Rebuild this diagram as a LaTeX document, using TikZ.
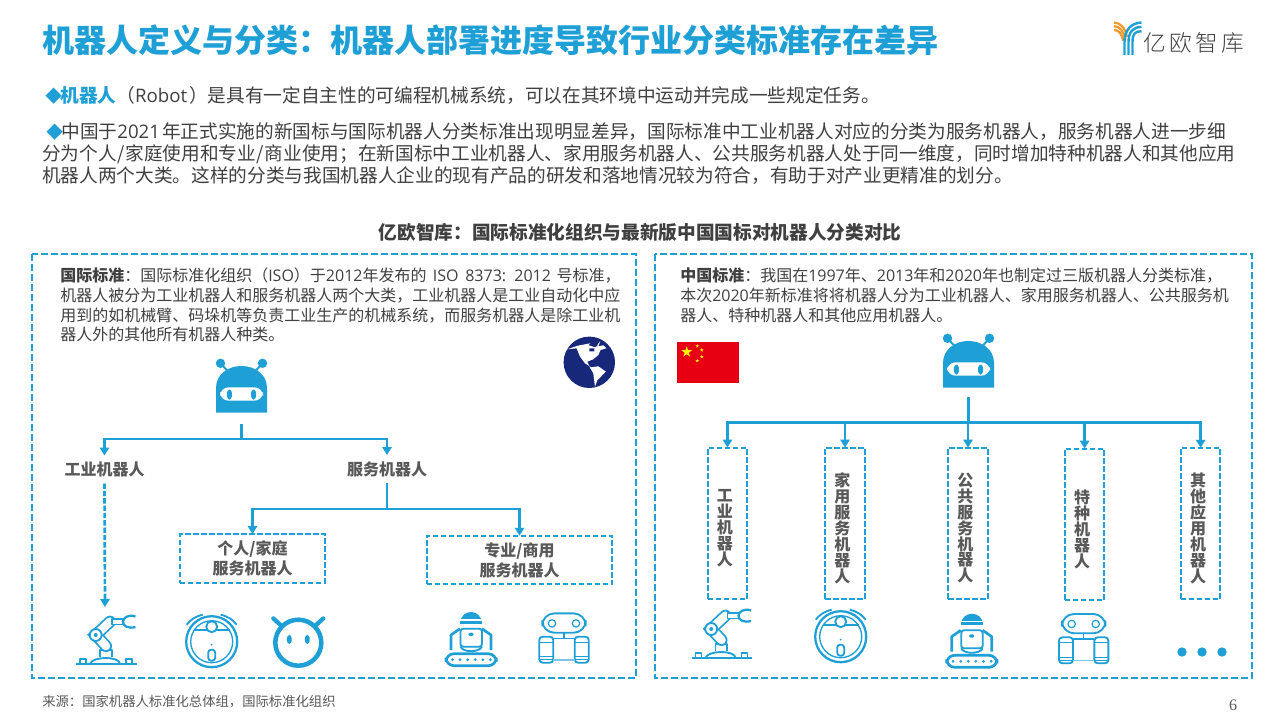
\documentclass[tikz,border=0pt]{standalone}
\usepackage{fontspec}
\setmainfont{Noto Sans CJK SC}
\newfontfamily\la{Open Sans}
\newfontfamily\serifnum{Liberation Serif}
\newfontfamily\thin{Noto Sans CJK SC Light}
\usepackage{xcolor}
\usetikzlibrary{arrows.meta,positioning,shapes.geometric}
\definecolor{ioblue}{HTML}{1E9FD5}
\definecolor{iotext}{HTML}{404040}
\definecolor{iolabel}{HTML}{595959}
\definecolor{ioorange}{HTML}{F39A2E}
\definecolor{ionavy}{HTML}{17287A}
\definecolor{iored}{HTML}{E60012}
\newcommand{\lat}[1]{{\la #1}}
\newcommand{\bul}{\textcolor{ioblue}{\fontsize{12.5}{12}\selectfont ◆}\hspace{-1.2pt}}
\newcommand{\fco}{\char"FF1A\relax}
\newcommand{\fcm}{\char"FF0C\relax}
\newcommand{\fsc}{\char"FF1B\relax}
\newcommand{\flp}{\char"FF08\relax}
\newcommand{\frp}{\char"FF09\relax}
\begin{document}
\begin{tikzpicture}[
  x=0.75pt, y=-0.75pt,
  panel/.style={draw=ioblue, line width=1.5pt, dash pattern=on 5pt off 2.5pt},
  hbox/.style={draw=ioblue, line width=1.4pt, dash pattern=on 4pt off 2pt, align=center,
              font=\fontsize{12}{15}\selectfont\bfseries, text=iolabel, outer sep=0pt},
  vbox/.style={draw=ioblue, line width=1.4pt, dash pattern=on 4pt off 2pt,
              minimum width=29.6pt, minimum height=113.6pt, inner sep=0pt, outer sep=0pt},
  vlbl/.style={align=center, inner sep=0pt, xshift=-1.9pt, yshift=-3.7pt,
              font=\fontsize{12}{11.9}\selectfont\bfseries, text=iolabel},
  lbl/.style={font=\fontsize{12}{15}\selectfont\bfseries, text=iolabel, minimum height=21pt,
              inner sep=0pt, outer sep=0pt},
  para/.style={anchor=north west, align=left, inner sep=0pt, text=iotext,
              font=\fontsize{14}{16.5}\selectfont},
  small/.style={anchor=north west, align=left, inner sep=0pt, text=iotext,
              font=\fontsize{12}{14.7}\selectfont},
  trunk/.style={draw=ioblue, line width=2pt},
  arr/.style={draw=ioblue, line width=2pt, -{Triangle[length=6pt,width=7pt]}},
  darr/.style={arr, dash pattern=on 4pt off 1.5pt},
  ic/.style={draw=ioblue, line width=1.4pt, line join=round},
  pics/robothead/.style={code={
    \fill[ioblue] (-25.5,22.7) -- (-25.5,-2) .. controls (-25.5,-16) and (-13,-24) .. (0,-24)
      .. controls (13,-24) and (25.5,-16) .. (25.5,-2) -- (25.5,22.7) -- cycle;
    \draw[ioblue, line width=1.5pt] (-21,-26.7) -- (-14,-19) (21,-26.7) -- (14,-19);
    \fill[ioblue] (-21,-26.7) circle (4.7) (21,-26.7) circle (4.7);
    \fill[white, rounded corners=6.5] (-21.5,-2.7) rectangle (21.5,10.7);
    \fill[ioblue, rounded corners=2.4] (-14.6,-0.5) rectangle (-9.6,9.5) (9.6,-0.5) rectangle (14.6,9.5);
  }},
  pics/armicon/.style={code={
    \draw[ic] (-30,-2) -- (30.7,-2);
    \draw[ic] (-26,-2) rectangle (-20,-7) (20,-2) rectangle (26,-7);
    \draw[ic] (-16,-2) .. controls (-14,-10) and (14,-10) .. (14,-2);
    \draw[ic] (-6,-9.5) -- (-6,-16) -- (5.7,-16) -- (5.7,-9.5);
    \draw[ioblue, line width=9pt, line cap=round] (0,-20) -- (-10.3,-31) -- (4,-44.3);
    \draw[white, line width=6.4pt, line cap=round] (0,-20) -- (-10.3,-31) -- (4,-44.3);
    \draw[ic, fill=white] (-10.3,-31) circle (6);
    \fill[ioblue] (-10.3,-31) circle (2);
    \draw[ic, fill=white] (6,-47) rectangle (17,-41.5);
    \draw[ic, line width=1.7pt] (29.5,-49.5) .. controls (22,-52) and (17,-48) .. (17,-44.3) .. controls (17,-40) and (22,-37) .. (29.5,-39);
  }},
  pics/vacicon/.style={code={
    \draw[ioblue, line width=1.7pt] (0,0) circle (25.5);
    \draw[ioblue, line width=1pt] (0,0) circle (21);
    \draw[ic] (-18,-11.7) -- (18,-11.7);
    \draw[ic, fill=white] (0,-15) circle (5.5);
    \draw[ic] (-25,-17) .. controls (-21,-22) and (-17,-25) .. (-9,-27) (25,-17) .. controls (21,-22) and (17,-25) .. (9,-27);
    \fill[ioblue] (0,3) circle (1);
    \draw[ic, rounded corners=2.2] (-3.5,8) rectangle (3.5,19);
  }},
  pics/faceicon/.style={code={
    \draw[ioblue, line width=3.4pt] (0,0) circle (23);
    \draw[ioblue, line width=3.2pt, line cap=round] (-25,-24.3) -- (-17,-17) (25,-24.3) -- (17,-17);
    \fill[ioblue, rounded corners=2.3] (-11.4,-7.8) rectangle (-6.6,1.2) (6.6,-7.8) rectangle (11.4,1.2);
  }},
  pics/trackicon/.style={code={
    \draw[ioblue, line width=2pt, rounded corners=6] (-25,-13) rectangle (25.3,-1);
    \foreach \dx in {-18.7,-11,-3.4,4.2,11.8,19.4} {\fill[ioblue] (\dx,-7) circle (1.5);}
    \draw[ic, rounded corners=2] (-10.5,-38) rectangle (11,-20);
    \draw[ic] (-10.5,-20) .. controls (-8,-14) and (8,-14) .. (11,-20);
    \fill[ioblue] (-11,-43) .. controls (-11,-58.5) and (11,-58.5) .. (11,-43) -- cycle;
    \fill[white] (-12,-47.5) rectangle (12,-46);
    \draw[ic, line width=2pt] (-11,-38) -- (-20,-31.7) -- (-20,-16.7) (11,-38) -- (20,-31.7) -- (20,-16.7);
    \fill[ioblue, rounded corners=1.5] (-2.6,-34) rectangle (2.6,-30.6);
  }},
  pics/wheelicon/.style={code={
    \draw[ic, rounded corners=9] (-21.7,-49.3) rectangle (21.7,-30);
    \draw[ioblue, line width=.9pt] (-12,-39.3) circle (3.7) (12,-39.3) circle (3.7);
    \draw[ioblue, line width=.9pt] (0,-30) -- (0,-24.3) (-10.7,-24.3) -- (10.7,-24.3);
    \draw[ic, rounded corners=2.5] (-24.7,-26) rectangle (-10.7,0) (10.7,-26) rectangle (24.7,0);
    \draw[ioblue, line width=.9pt] (-24.7,-20.5) -- (-10.7,-20.5) (-24.7,-6) -- (-10.7,-6) (-24.7,-3) -- (-10.7,-3);
    \draw[ioblue, line width=.9pt] (24.7,-20.5) -- (10.7,-20.5) (24.7,-6) -- (10.7,-6) (24.7,-3) -- (10.7,-3);
    \draw[ioblue!60, line width=1pt] (-10.7,-2.7) -- (10.7,-2.7);
  }}
]
\useasboundingbox (0,0) rectangle (1280,720);
\fill[white] (0,0) rectangle (1280,720);
% header
\node[anchor=west, inner sep=0pt, text=ioblue, font=\fontsize{24}{24}\selectfont\bfseries] (title) at (42,40)
  {机器人定义与分类\fco 机器人部署进度导致行业分类标准存在差异};
\foreach \d in {0,3.7,7.4} {
  \draw[ioorange, line width=1.7pt] (1114,22.5+\d) .. controls (1120,23+\d) and (1125-\d/2,27+\d) .. (1127-\d/2,37+\d/2);
}
\foreach \d in {0,4,8} {
  \draw[ioblue, line width=1.8pt] (1124.5+\d,55) -- (1124.5+\d,42) .. controls (1124.5+\d,30+\d/2) and (1131+\d/2,23+\d) .. (1141.5,22.5+\d*1.1);
}
\node[anchor=west, inner sep=0pt, text=iotext, font=\fontsize{17}{18}\selectfont\thin] (logo) at (1143,43) {亿\hspace{2.5pt}欧\hspace{2.5pt}智\hspace{2.5pt}库};
% intro text
\node[para, anchor=west] (intro) at (45,95.5) {\bul\textcolor{ioblue}{\textbf{机器人}}\flp\lat{Robot}\hspace{1.5pt}\frp 是具有一定自主性的可编程机械系统\fcm 可以在其环境中运动并完成一些规定任务。};
\node[para, anchor=north west] (detail) at (42,122) {\hspace*{3pt}\bul 中国于\lat{2021}\hspace{1.5pt}年正式实施的新国标与国际机器人分类标准出现明显差异\fcm 国际标准中工业机器人对应的分类为服务机器人\fcm 服务机器人进一步细\\
分为个人\hspace{.5pt}/\hspace{.5pt}家庭使用和专业\hspace{.5pt}/\hspace{.5pt}商业使用\fsc 在新国标中工业机器人、家用服务机器人、公共服务机器人处于同一维度\fcm 同时增加特种机器人和其他应用\\
机器人两个大类。这样的分类与我国机器人企业的现有产品的研发和落地情况较为符合\fcm 有助于对产业更精准的划分。};
\node[inner sep=0pt, text=iotext, font=\fontsize{14}{14}\selectfont\bfseries] (charttitle) at (640,232)
  {亿欧智库\fco 国际标准化组织与最新版中国国标对机器人分类对比};
% panels
\draw[panel] (32,254) rectangle (636,678);
\draw[panel] (655,254) rectangle (1252,678);
\node[small] (intltext) at (60,268) {\textbf{国际标准}\fco 国际标准化组织\flp\lat{ISO}\frp 于\lat{2012}年发布的\hspace{2pt} \lat{ISO\hspace{2pt} 8373:\hspace{2pt} 2012}\hspace{1.5pt} 号标准\fcm\\
机器人被分为工业机器人和服务机器人两个大类\fcm 工业机器人是工业自动化中应\\
用到的如机械臂、码垛机等负责工业生产的机械系统\fcm 而服务机器人是除工业机\\
器人外的其他所有机器人种类。};
\node[small] (cntext) at (680,268) {\textbf{中国标准}\fco 我国在\lat{1997}年、\lat{2013}年和\lat{2020}年也制定过三版机器人分类标准\fcm\\
本次\lat{2020}年新标准将将机器人分为工业机器人、家用服务机器人、公共服务机\\
器人、特种机器人和其他应用机器人。};
% globe
\fill[ionavy] (589.3,362.3) circle (25.7);
\begin{scope}[shift={(589.3,362.3)}]
  \fill[white] (-22,-13) -- (-12.7,-14) -- (-9.3,-5.7) -- (-4.3,1) -- (2,5) -- (9,4) -- (16.5,9.3) -- (8,18) -- (5.7,24.5) -- (4,11) -- (1,6)
    -- (-2,-.7) -- (4,-3) -- (9,-7.3) -- (11.3,-12.3) -- (17,-14) -- (14,-17) -- (9,-16) -- (11,-21) -- (6,-15) -- (-1,-17) -- (1,-19) -- (-12,-16.5) -- cycle;
  \fill[ionavy] (0,-14) rectangle (5,-11) (6,-19) rectangle (8,-16);
\end{scope}
% flag
\fill[iored] (677,342) rectangle (739,382.7);
\node[star, star points=5, star point ratio=2.6, fill=yellow, inner sep=0pt, minimum size=8.5pt] (bigstar) at (686.7,352) {};
\foreach \sx/\sy/\sn in {697.3/346/a,701.7/350/b,701.7/356.7/c,697.3/360.7/d} {
  \node[star, star points=5, star point ratio=2.6, fill=yellow, inner sep=0pt, minimum size=3pt] (smallstar\sn) at (\sx,\sy) {};
}
% international tree
\pic at (241.5,390) {robothead};
\coordinate (introot) at (241.5,424);
\coordinate (intjoint) at (241.5,439);
\node[lbl] (indlbl) at (104.5,469.5) {工业机器人};
\node[lbl] (svclbl) at (387,469) {服务机器人};
\coordinate (svcjoint) at (387,509);
\node[hbox, minimum width=108.7pt, minimum height=36.5pt] (homebox) at (252.5,558.4) {个人/家庭\\服务机器人};
\node[hbox, minimum width=139.2pt, minimum height=36.2pt] (bizbox) at (519.5,559.9) {专业/商用\\服务机器人};
\coordinate (armtop) at (105,607);
\draw[trunk] (introot) -- (intjoint);
\draw[arr] (intjoint) -| (indlbl.north);
\draw[arr] (intjoint) -| (svclbl.north);
\draw[trunk] (svclbl.south) -- (svcjoint);
\draw[arr] (svcjoint) -| (homebox.north);
\draw[arr] (svcjoint) -| (bizbox.north);
\draw[darr] (indlbl.south) -- (armtop);
\pic at (106,666) {armicon};
\pic at (211.7,641.7) {vacicon};
\pic at (298.3,642.7) {faceicon};
\pic at (471,666.7) {trackicon};
\pic at (564,662.7) {wheelicon};
% chinese tree
\pic at (968.5,365) {robothead};
\coordinate (cnroot) at (968.5,397);
\coordinate (cnjoint) at (968.5,422.3);
\node[vbox, label={[vlbl]center:{工\\业\\机\\器\\人}}] (cnind) at (727.5,523.3) {};
\node[vbox, label={[vlbl]center:{家\\用\\服\\务\\机\\器\\人}}] (cnhome) at (845,523.3) {};
\node[vbox, label={[vlbl]center:{公\\共\\服\\务\\机\\器\\人}}] (cnpub) at (968,523.3) {};
\node[vbox, label={[vlbl]center:{特\\种\\机\\器\\人}}] (cnspec) at (1084.6,524.3) {};
\node[vbox, label={[vlbl]center:{其\\他\\应\\用\\机\\器\\人}}] (cnother) at (1200.6,523.5) {};
\draw[trunk] (cnroot) -- (cnjoint);
\foreach \n in {cnind,cnhome,cnpub,cnspec,cnother} {
  \draw[arr] (cnjoint) -| (\n.north);
}
\pic at (721.5,660) {armicon};
\pic at (840.7,636.7) {vacicon};
\pic at (971.7,668.3) {trackicon};
\pic at (1083.7,663.3) {wheelicon};
\foreach \dx in {1182,1202,1222} {\fill[ioblue] (\dx,652) circle (4.7);}
% footer
\node[anchor=west, inner sep=0pt, text=iolabel, font=\fontsize{10}{10}\selectfont] (source) at (42,701.5) {来源\fco 国家机器人标准化总体组\fcm 国际标准化组织};
\node[inner sep=0pt, text=iolabel, font=\fontsize{12}{12}\selectfont\serifnum] (pagenum) at (1233,705) {6};
\end{tikzpicture}
\end{document}
